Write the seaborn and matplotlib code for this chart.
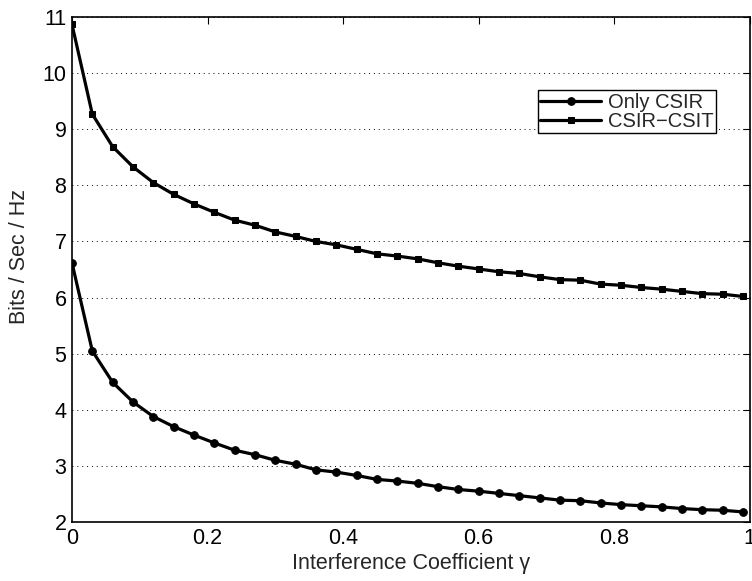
import matplotlib
matplotlib.use("Agg")
import matplotlib.pyplot as plt
import seaborn as sns
import numpy as np
import pandas as pd

# interference coefficient gamma: 0, 0.03, ..., 0.99
gamma = [0.00, 0.03, 0.06, 0.09, 0.12, 0.15, 0.18, 0.21, 0.24, 0.27, 0.30, 0.33,
         0.36, 0.39, 0.42, 0.45, 0.48, 0.51, 0.54, 0.57, 0.60, 0.63, 0.66, 0.69,
         0.72, 0.75, 0.78, 0.81, 0.84, 0.87, 0.90, 0.93, 0.96, 0.99]

only_csir = [6.62, 5.05, 4.49, 4.14, 3.88, 3.70, 3.55, 3.41, 3.28, 3.20, 3.10, 3.03,
             2.93, 2.89, 2.83, 2.76, 2.73, 2.69, 2.63, 2.58, 2.55, 2.51, 2.47, 2.43,
             2.39, 2.38, 2.34, 2.31, 2.29, 2.27, 2.24, 2.22, 2.21, 2.18]

csir_csit = [10.87, 9.27, 8.69, 8.33, 8.05, 7.84, 7.67, 7.52, 7.38, 7.29, 7.17, 7.09,
             7.00, 6.94, 6.86, 6.78, 6.74, 6.69, 6.62, 6.56, 6.51, 6.46, 6.43, 6.37,
             6.32, 6.31, 6.24, 6.22, 6.18, 6.15, 6.11, 6.07, 6.06, 6.02]

x_ticks = [0, 0.2, 0.4, 0.6, 0.8, 1]
x_ticklabels = ["0", "0.2", "0.4", "0.6", "0.8", "1"]
y_ticks = [2, 3, 4, 5, 6, 7, 8, 9, 10, 11]

sns.set_style("white")
plt.rcParams["font.family"] = ["Liberation Sans", "DejaVu Sans"]
fs = 15.5

fig = plt.figure(figsize=(7.52, 5.81), dpi=100)
ax = fig.add_axes([0.0957, 0.1015, 0.9013, 0.8692])

sns.lineplot(x=gamma, y=only_csir, ax=ax, color="black", linewidth=2.3,
             marker="o", markersize=5.5, markeredgecolor="black", label="Only CSIR")
sns.lineplot(x=gamma, y=csir_csit, ax=ax, color="black", linewidth=2.3,
             marker="s", markersize=5, markeredgecolor="black", label="CSIR\u2212CSIT")

ax.set_xlim(0, 1)
ax.set_ylim(2, 11)
ax.set_xticks(x_ticks)
ax.set_xticklabels(x_ticklabels)
ax.set_yticks(y_ticks)
ax.tick_params(direction="in", top=True, right=True, length=5, width=0.8,
               labelsize=fs, colors="black", pad=4)
ax.yaxis.grid(True, linestyle=(0, (1, 4)), color="black", linewidth=0.7)
ax.xaxis.grid(False)
for s in ax.spines.values():
    s.set_color("black")
    s.set_linewidth(1.2)

ax.set_xlabel("Interference Coefficient \u03b3", fontsize=fs, labelpad=3)
ax.set_ylabel("Bits / Sec / Hz", fontsize=fs)
ax.yaxis.set_label_coords(-0.062, 0.525)

leg = ax.legend(loc="upper right", bbox_to_anchor=(0.950, 0.855), borderaxespad=0,
                fontsize=14.5, handlelength=3.0, handletextpad=0.35, frameon=True,
                fancybox=False, edgecolor="black", framealpha=1, borderpad=0.12,
                labelspacing=0.0)
leg.get_frame().set_linewidth(1.0)

fig.savefig("out.png", dpi=100)
